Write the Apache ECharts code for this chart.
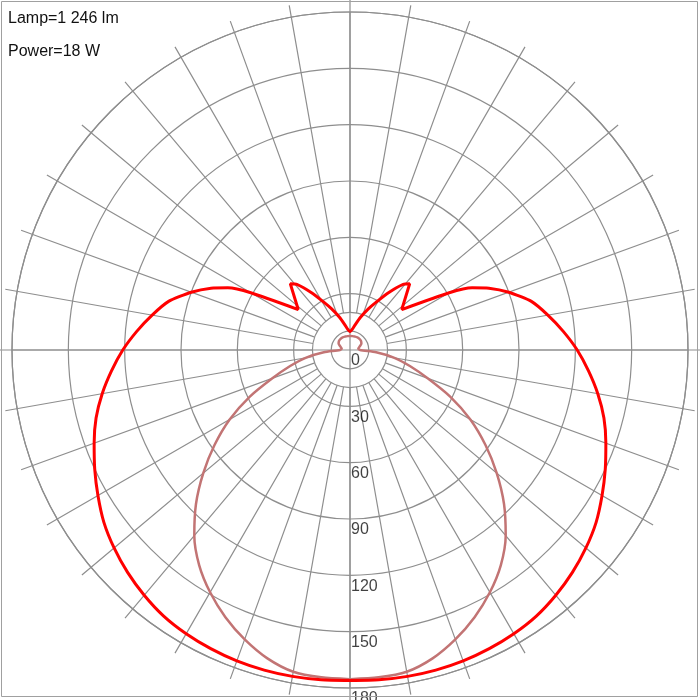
<!DOCTYPE html>
<html>
<head>
<meta charset="utf-8">
<script src="https://cdn.jsdelivr.net/npm/echarts@6/dist/echarts.min.js"></script>
<style>
html,body{margin:0;padding:0;background:#fff;}
#chart{width:700px;height:700px;}
</style>
</head>
<body>
<div id="chart"></div>
<script>
// Gamma angles (degrees from nadir) and intensities (cd/klm)
const redAngles   = [0,5,10,15,20,25,30,35,40,45,50,55,60,65,70,75,80,85,90,95,100,105,110,114,117,120,128,138,141,146,151,156,162,168,174,180];
const redValues   = [176,176.3,176.5,176.5,176.2,175.5,174.5,173,170.5,167.5,164,160,155,150,145,140,134,127.5,121,114,107,100,90,81,73,61,35,47.5,45,37,29.5,24,18.5,14,11,9.7];
const brownAngles = [0,5,10,15,20,25,30,35,40,45,50,55,60,65,70,75,80,85,90,100,110,120,130,140,150,160,170,180];
const brownValues = [175.3,175,174,170,164,157,149,140,129,116,102,88,74,59,44,33,24,14,5.3,4.5,5.5,7,7.6,7.8,7.8,7.6,7.5,7.5];
const ringLabels  = [0,30,60,90,120,150,180];
const innerRings  = [0,10,20];
const titleLines  = ['Lamp=1 246 lm','Power=18 W'];

function fullCurve(angles, values){
  const d = [];
  for (let i = 0; i < angles.length; i++) d.push([values[i], angles[i]]);
  for (let i = angles.length - 2; i >= 0; i--) d.push([values[i], 360 - angles[i]]);
  return d;
}

const R = 338;
const scale = R / 180;
const gridColor = '#8e8e8e';
const gridWidth = 1.2;

const chart = echarts.init(document.getElementById('chart'));
chart.setOption({
  animation: false,
  backgroundColor: '#fff',
  polar: [
    {center: [350, 350], radius: R},
    {center: [350, 350], radius: [innerRings[2] * scale, 350]},
    {center: [350, 350], radius: innerRings[2] * scale}
  ],
  angleAxis: [
    {polarIndex: 0, type: 'value', min: 0, max: 360, interval: 90, startAngle: 270, clockwise: false,
     axisLine: {show: true, lineStyle: {color: gridColor, width: gridWidth}},
     axisTick: {show: false}, axisLabel: {show: false},
     splitLine: {show: true, lineStyle: {color: gridColor, width: gridWidth}}},
    {polarIndex: 1, type: 'value', min: 0, max: 360, interval: 10, startAngle: 270, clockwise: false,
     axisLine: {show: false}, axisTick: {show: false}, axisLabel: {show: false},
     splitLine: {show: true, lineStyle: {color: gridColor, width: gridWidth}}},
    {polarIndex: 2, type: 'value', min: 0, max: 360, startAngle: 270, show: false}
  ],
  radiusAxis: [
    {polarIndex: 0, type: 'value', min: ringLabels[0], max: ringLabels[ringLabels.length-1], interval: 30,
     axisLine: {show: false}, axisTick: {show: false}, axisLabel: {show: false},
     splitLine: {show: true, lineStyle: {color: gridColor, width: gridWidth}}},
    {polarIndex: 1, type: 'value', min: 0, max: 1, show: false},
    {polarIndex: 2, type: 'value', min: innerRings[0], max: innerRings[2], interval: 10,
     axisLine: {show: false}, axisTick: {show: false}, axisLabel: {show: false},
     splitLine: {show: true, lineStyle: {color: gridColor, width: gridWidth}}}
  ],
  graphic: [
    {type: 'text', left: 8, top: 11, z: 100,
     style: {text: titleLines[0], font: '16px "Liberation Sans", Arial, sans-serif', fill: '#111'}},
    {type: 'text', left: 8, top: 44, z: 100,
     style: {text: titleLines[1], font: '16px "Liberation Sans", Arial, sans-serif', fill: '#111'}},
    {type: 'rect', z: 100, silent: true,
     shape: {x: 1.5, y: 1.5, width: 696, height: 695},
     style: {fill: 'none', stroke: '#a0a0a0', lineWidth: 1}}
  ],
  series: [
    {type: 'line', coordinateSystem: 'polar', polarIndex: 0, showSymbol: false, symbol: 'none',
     smooth: 0.25, data: fullCurve(brownAngles, brownValues), z: 3,
     lineStyle: {color: '#c27474', width: 2.5}},
    {type: 'line', coordinateSystem: 'polar', polarIndex: 0, showSymbol: false, symbol: 'none',
     smooth: 0.2, data: fullCurve(redAngles, redValues), z: 4,
     lineStyle: {color: '#ff0000', width: 3}},
    {type: 'scatter', coordinateSystem: 'polar', polarIndex: 0, symbolSize: 0, z: 5,
     data: ringLabels.map(v => [v, 0]),
     label: {show: true, position: [1, 3], align: 'left', verticalAlign: 'top',
             formatter: p => String(p.value[0]),
             fontSize: 16, fontFamily: '"Liberation Sans", Arial, sans-serif', color: '#111'}}
  ]
});
</script>
</body>
</html>
